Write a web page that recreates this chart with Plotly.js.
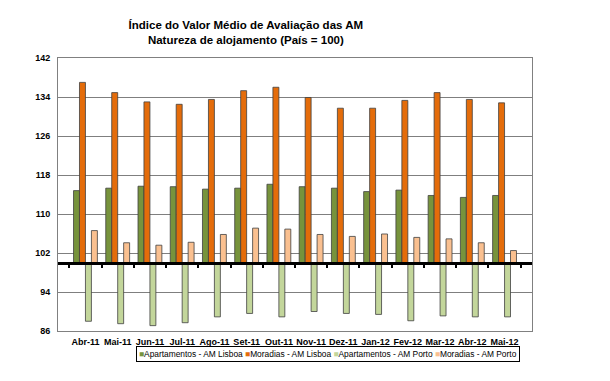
<!DOCTYPE html>
<html><head><meta charset="utf-8">
<script src="https://cdn.plot.ly/plotly-3.0.1.min.js"></script>
<style>body{margin:0;background:#fff}#chart{width:610px;height:381px}</style>
</head><body><div id="chart"></div>
<script>
const categories = ["Abr-11","Mai-11","Jun-11","Jul-11","Ago-11","Set-11","Out-11","Nov-11","Dez-11","Jan-12","Fev-12","Mar-12","Abr-12","Mai-12"];
const aptLisboa = [114.8,115.3,115.7,115.6,115.1,115.3,116.1,115.6,115.3,114.6,114.9,113.8,113.4,113.8];
const morLisboa = [137.0,134.9,133.0,132.5,133.5,135.3,136.0,133.9,131.7,131.7,133.3,134.9,133.5,132.8];
const aptPorto  = [88.0,87.5,87.1,87.7,88.9,89.6,88.9,90.0,89.6,89.4,88.1,89.1,88.9,88.9];
const morPorto  = [106.6,104.1,103.6,104.2,105.8,107.1,106.9,105.8,105.4,105.9,105.2,104.9,104.1,102.5];
const seriesNames = ["Apartamentos - AM Lisboa","Moradias - AM Lisboa","Apartamentos - AM Porto","Moradias - AM Porto"];
const baseValue = 100;
const yTicks = [86,94,102,110,118,126,134,142];

const colors = ["#77933C","#E46C0A","#C3D69B","#FAC090"];
const values = [aptLisboa, morLisboa, aptPorto, morPorto];
const traces = values.map((v,i) => ({
  type:"bar", name:seriesNames[i], x:categories,
  y:v.map(d => d - baseValue), base:baseValue,
  marker:{color:colors[i], line:{color:"#404040", width:0.8}},
  hoverinfo:"skip", showlegend:false
}));
traces.push({type:"scatter", mode:"markers", x:categories, y:categories.map(()=>null),
  xaxis:"x2", yaxis:"y", showlegend:false, hoverinfo:"skip"});

const f = "Liberation Sans, Arial, sans-serif";
const legendText = seriesNames.map((n,i) =>
  '<span style="color:'+colors[i]+'">■</span>' + n).join(" ");

const layout = {
  width:610, height:381,
  margin:{l:58, r:78, t:58, b:50},
  paper_bgcolor:"#fff", plot_bgcolor:"#fff",
  barmode:"group", bargap:0.26, bargroupgap:0,
  title:{text:"<b>Índice do Valor Médio de Avaliação das AM<br>Natureza de alojamento (País = 100)</b>",
    font:{family:f, size:11.5, color:"#000"}, x:0.403, xanchor:"center", xref:"container", y:0.925, yanchor:"top"},
  xaxis:{type:"category", showgrid:false, showline:true, linecolor:"#808080", mirror:true, tickangle:0,
    ticks:"", tickfont:{family:f, size:9, color:"#000", weight:"bold"}, ticklabelstandoff:2},
  xaxis2:{type:"category", overlaying:"x", matches:"x", anchor:"free", position:(baseValue-86)/(142-86),
    showline:true, linecolor:"#000", linewidth:3, ticks:"outside", tickson:"boundaries",
    ticklen:3, tickwidth:2, tickcolor:"#000", showticklabels:false, showgrid:false, side:"bottom"},
  yaxis:{range:[86,142], tickvals:yTicks, showgrid:true, gridcolor:"#7f7f7f", gridwidth:1,
    showline:true, linecolor:"#808080", mirror:true, zeroline:false, ticklabelstandoff:5,
    ticks:"", tickfont:{family:f, size:9, color:"#000", weight:"bold"}},
  showlegend:false,
  annotations:[{text:legendText, xref:"paper", yref:"paper", x:(328-58)/474, y:-(354-331)/273,
    xanchor:"center", yanchor:"middle", showarrow:false, bordercolor:"#000", borderwidth:1, borderpad:2,
    font:{family:f, size:8.4, color:"#000"}}]
};
Plotly.newPlot("chart", traces, layout, {displayModeBar:false, staticPlot:true});
</script></body></html>
